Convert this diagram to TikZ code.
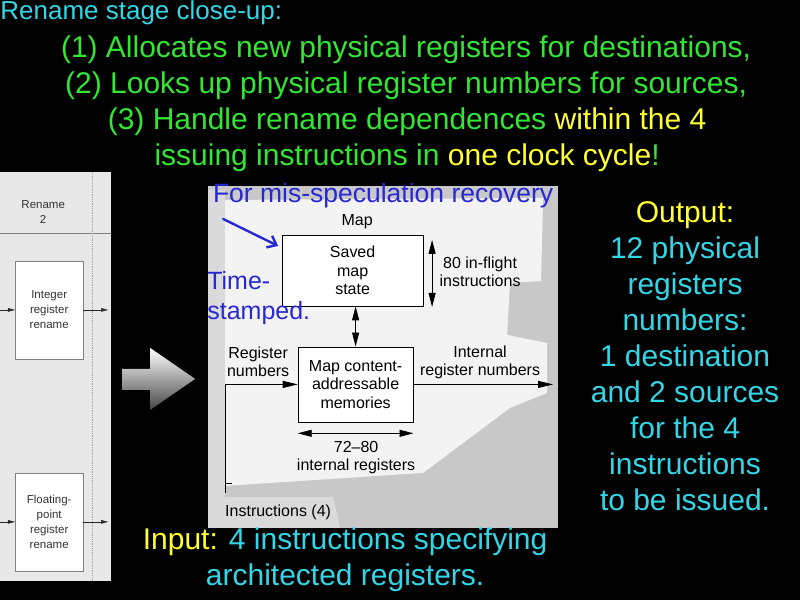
\documentclass[tikz,border=0pt]{standalone}
\usepackage{fontspec}
\setmainfont{Liberation Sans}
\usepackage{xcolor}
\usepackage{tikz}
\usetikzlibrary{positioning}
\usetikzlibrary{arrows.meta}
\usetikzlibrary{calc}

\definecolor{slidecyan}{RGB}{51,214,230}
\definecolor{slidegreen}{RGB}{51,230,51}
\definecolor{slideyellow}{RGB}{255,255,51}
\definecolor{noteblue}{RGB}{40,40,210}
\definecolor{insetgray}{RGB}{200,200,200}
\definecolor{insetlight}{RGB}{243,243,243}
\definecolor{insetmid}{RGB}{218,218,218}
\definecolor{panelgray}{RGB}{232,232,232}

\tikzset{
	mapbox/.style={draw, fill=white, line width=0.8pt, align=center, inner sep=0pt,
		font=\fontsize{16}{18.5}\selectfont},
	maplabel/.style={align=center, inner sep=0pt, font=\fontsize{16}{18}\selectfont},
	stagebox/.style={draw=gray, fill=white, minimum width=68pt, minimum height=98pt,
		align=center, inner sep=0pt, text=gray!40!black, font=\fontsize{11.5}{15}\selectfont},
	sarrow/.style={-{Triangle[length=15pt,width=7pt]}, line width=0.7pt},
	darrow/.style={{Triangle[length=14pt,width=7pt]}-{Triangle[length=14pt,width=7pt]}, line width=0.9pt},
	slidetext/.style={inner sep=0pt, font=\fontsize{30}{36}\selectfont},
	notetext/.style={inner sep=0pt, text=noteblue, font=\fontsize{25}{30}\selectfont}
}

\begin{document}
\begin{tikzpicture}[x=1pt,y=-1pt]

		% Slide background
		\fill[black] (0,0) rectangle (800,600);

		% Left panel (pipeline stage)
		\fill[panelgray] (0,172) rectangle (111,581);
		\draw[gray] (0,233) -- (111,233);
		\draw[gray!70, densely dotted, line width=0.8pt] (92,172) -- (92,581);
		\node[align=center, inner sep=0pt, text=gray!40!black, font=\fontsize{11.5}{15}\selectfont] (stage) at (43,212) {Rename\\2};
		\node[stagebox] (intren) at (49,310) {Integer\\register\\rename};
		\node[stagebox] (fpren) at (49,522) {Floating-\\point\\register\\rename};
		\coordinate (intin) at (0,310);
		\coordinate (intout) at (108,310);
		\coordinate (fpin) at (0,522);
		\coordinate (fpout) at (108,522);
		\draw[-{Triangle[length=7pt,width=3.5pt]}, gray!30!black] (intin) -- (intren);
		\draw[-{Triangle[length=7pt,width=3.5pt]}, gray!30!black] (intren) -- (intout);
		\draw[-{Triangle[length=7pt,width=3.5pt]}, gray!30!black] (fpin) -- (fpren);
		\draw[-{Triangle[length=7pt,width=3.5pt]}, gray!30!black] (fpren) -- (fpout);

		% Shaded arrow
		\shade[top color=white, bottom color=gray!55!black]
		(122,369) -- (150,369) -- (150,348) -- (195,379) -- (150,410)
		-- (150,390) -- (122,390) -- cycle;

		% Inset picture background
		\fill[insetgray] (208,186) rectangle (558,528);
		\fill[insetmid] (208,190) rectangle (225,528);
		\fill[insetlight] (225,200) -- (543,198) -- (541,281) -- (510,283)
		-- (507,335) -- (547,343) -- (547,393) -- (510,408) -- (423,473)
		-- (225,486) -- cycle;
		\fill[insetmid] (208,497) -- (333,497) -- (340,528) -- (208,528) -- cycle;

		% Map boxes
		\node[maplabel] (map) at (357,222) {Map};
		\node[mapbox, minimum width=141pt, minimum height=71pt] (saved) at (352.5,270.5) {Saved\\map\\state};
		\node[mapbox, minimum width=115pt, minimum height=75pt] (cam) at (355.5,384.5) {Map content-\\addressable\\memories};

		% Arrows of the map
		\draw[darrow] (cam.north |- saved.south) -- (cam.north);
		\coordinate (flighttop) at (432,240);
		\coordinate (flightbot) at (432,307);
		\draw[darrow] (flighttop) -- (flightbot);
		\coordinate (regleft) at ($(cam.south west)+(0,11)$);
		\coordinate (regright) at ($(cam.south east)+(0,11)$);
		\draw[darrow] (regleft) -- (regright);
		\coordinate (instin) at (225,493);
		\draw[sarrow] (instin) |- (cam.west);
		\coordinate (instick) at (225,483);
		\draw[line width=0.7pt] (instick) -- ++(7,0);
		\coordinate (regout) at (553,386);
		\draw[sarrow] (cam.east) -- (cam.east -| regout);

		% Map labels
		\node[maplabel] (flight) at (480,272) {80 in-flight\\instructions};
		\node[maplabel] (regnum) at (258,362) {Register\\numbers};
		\node[maplabel] (intnum) at (480,362) {Internal\\register numbers};
		\node[maplabel] (internal) at (356,458) {72--80\\internal registers};
		\node[maplabel] (instr) at (278,512) {Instructions (4)};

		% Hand notes
		\node[notetext, font=\fontsize{26.5}{30}\selectfont] (recovery) at (383,196) {For mis-speculation recovery};
		\node[notetext, align=left, anchor=west] (stamp) at (207,298) {Time-\\stamped.};
		\coordinate (notefrom) at (223,219);
		\coordinate (noteto) at (278,246);
		\draw[noteblue, line width=2.4pt, line cap=round, -{Straight Barb[length=8pt,width=13pt]}] (notefrom) -- (noteto);

		% Slide texts
		\node[slidetext, font=\fontsize{26}{36}\selectfont, anchor=base west, text=slidecyan] (title) at (0,20) {Rename stage close-up:};
		\node[slidetext, anchor=base, text=slidegreen] (alloc) at (406,58) {(1) Allocates new physical registers for destinations,};
		\node[slidetext, anchor=base, text=slidegreen] (lookup) at (406,94) {(2) Looks up physical register numbers for sources,};
		\node[slidetext, anchor=base, text=slidegreen] (handle) at (407,130) {(3) Handle rename dependences \textcolor{slideyellow}{within the 4}};
		\node[slidetext, anchor=base, text=slidegreen] (cycle) at (407,166) {issuing instructions in \textcolor{slideyellow}{one clock cycle}!};
		\node[slidetext, align=center, text=slidecyan] (output) at (685,356)
		{\textcolor{slideyellow}{Output:}\\12 physical\\registers\\numbers:\\1 destination\\and 2 sources\\for the 4\\instructions\\to be issued.};
		\node[slidetext, align=center, text=slidecyan] (input) at (345,560)
		{\textcolor{slideyellow}{Input:} 4 instructions specifying\\architected registers.};

	\end{tikzpicture}
\end{document}
